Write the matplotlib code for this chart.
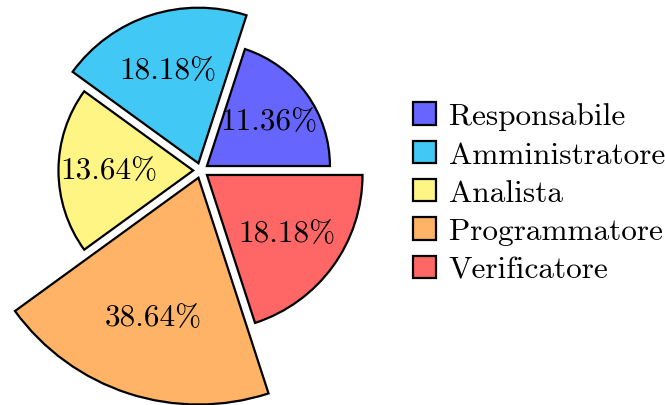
import matplotlib.pyplot as plt
from matplotlib.patches import Wedge, Patch
import numpy as np

plt.rcParams['font.family'] = ['cmr10', 'DejaVu Serif']
plt.rcParams['axes.unicode_minus'] = False

# ruoli e numero di ore/persone per ruolo
roles = ["Responsabile", "Amministratore", "Analista", "Programmatore", "Verificatore"]
counts = [5, 8, 6, 17, 8]
colors = ["#6666FF", "#41C8F5", "#FFF584", "#FFB366", "#FF6666"]

counts = np.array(counts, dtype=float)
pct = counts / counts.sum() * 100

# polar-area pie: equal angles, area proportional to value
step = 360.0 / len(counts)
scale = 55.0        # radius per sqrt(unit), in pixels
explode = 7.6
cx, cy = 200.8, 234.5

fig = plt.figure(figsize=(6.65, 4.06), dpi=100)
ax = fig.add_axes([0, 0, 1, 1])
ax.set_xlim(0, 665)
ax.set_ylim(0, 406)
ax.set_aspect('equal')
ax.axis('off')

for i, (c, p, col) in enumerate(zip(counts, pct, colors)):
    t1 = i * step
    t2 = t1 + step
    mid = np.deg2rad((t1 + t2) / 2)
    r = scale * np.sqrt(c)
    ox = cx + explode * np.cos(mid)
    oy = cy + explode * np.sin(mid)
    ax.add_patch(Wedge((ox, oy), r, t1, t2, facecolor=col,
                       edgecolor='black', linewidth=1.6, joinstyle='miter'))
    lr = 0.68 * r
    ax.text(cx + lr * np.cos(mid), cy + lr * np.sin(mid), f"{p:.2f}%",
            ha='center', va='center', fontsize=22.5)

handles = [Patch(facecolor=col, edgecolor='black', linewidth=1.6) for col in colors]
fig.legend(handles, roles, loc='center left', bbox_to_anchor=(413 / 665, 212 / 406),
           frameon=False, fontsize=22.5, handlelength=0.72, handleheight=0.72,
           handletextpad=0.42, labelspacing=0.33, borderpad=0, borderaxespad=0)

fig.savefig("out.png", dpi=100)
